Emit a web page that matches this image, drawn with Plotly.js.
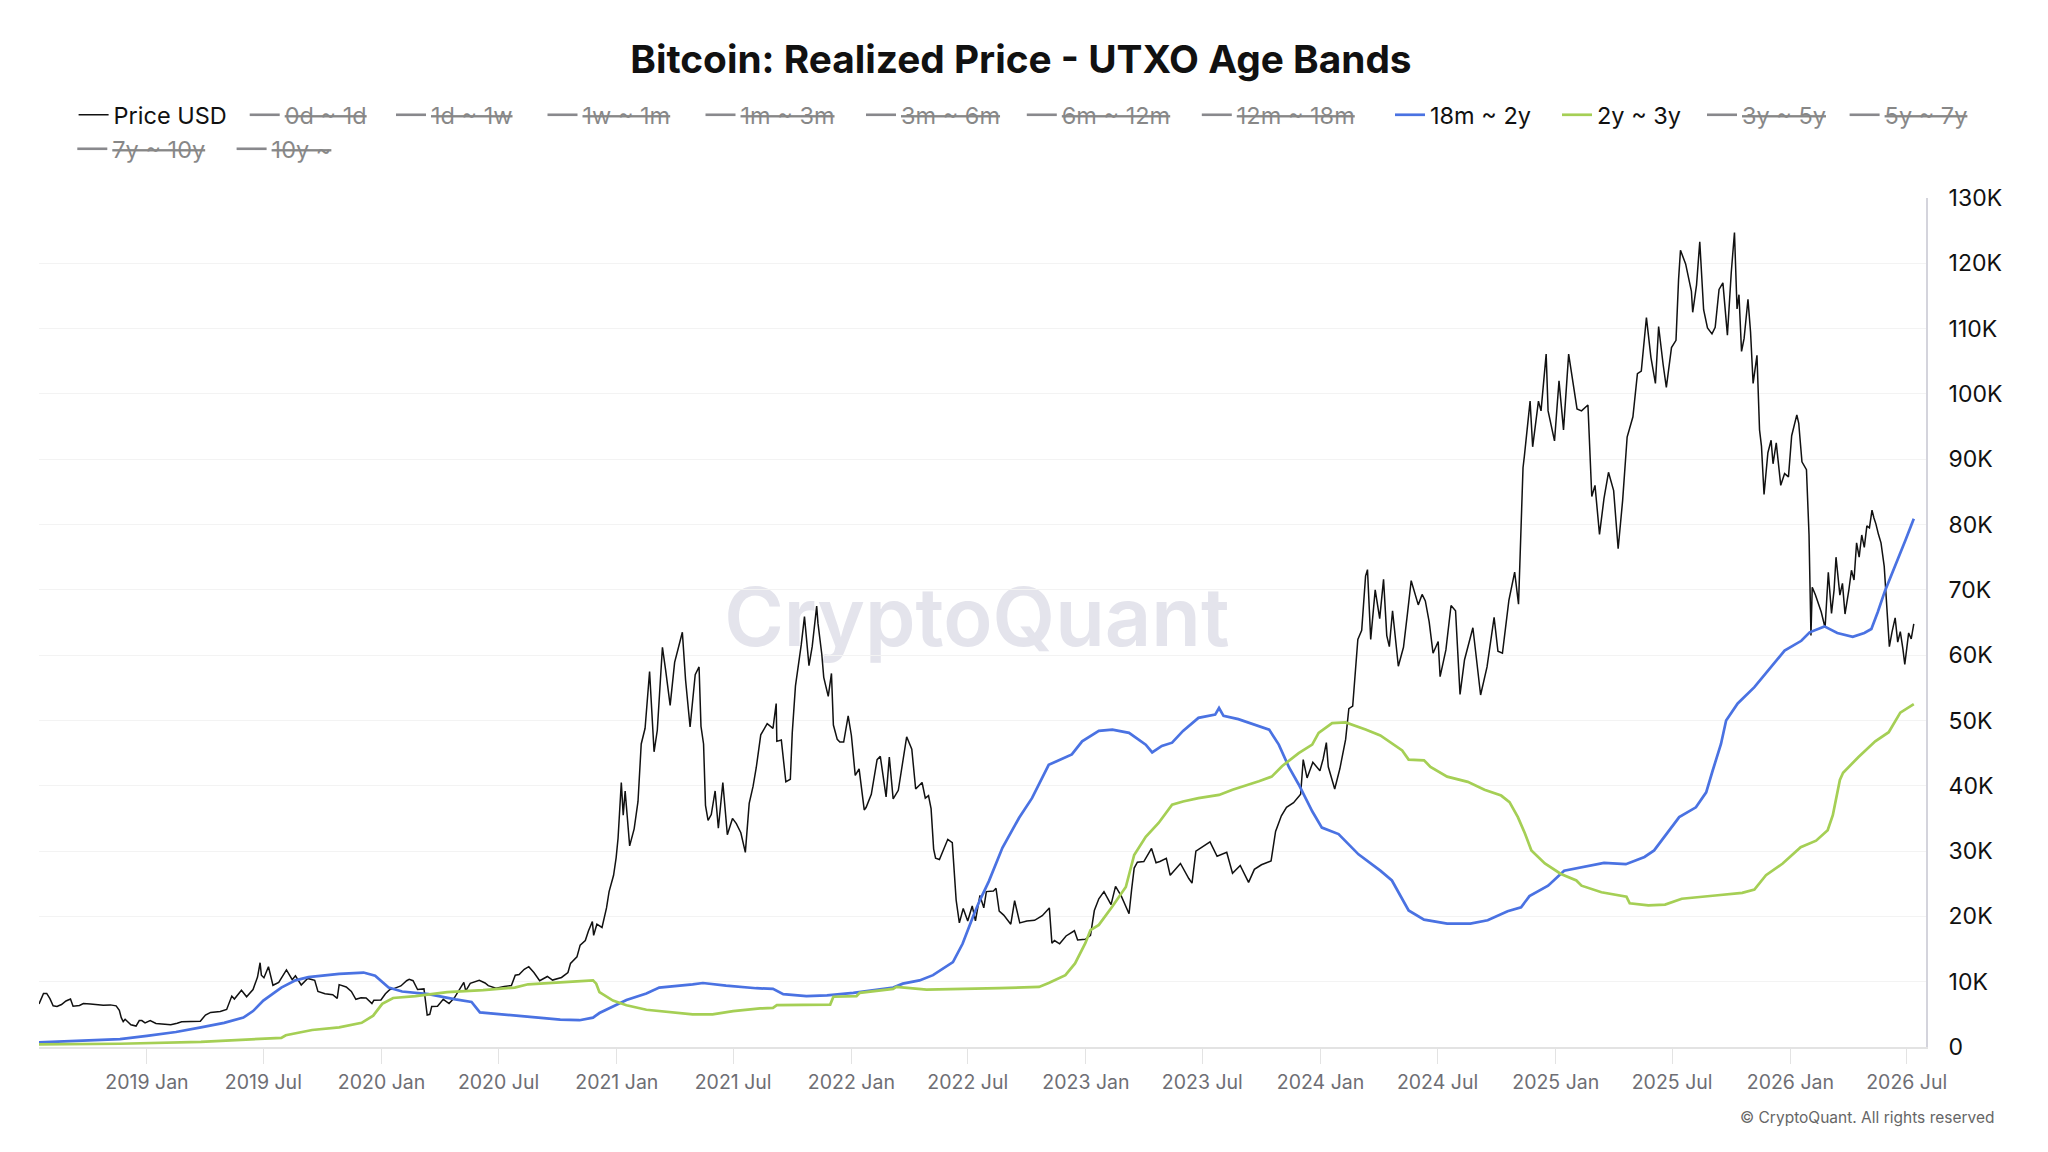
<!DOCTYPE html>
<html>
<head>
<meta charset="utf-8">
<script src="https://cdn.plot.ly/plotly-3.0.1.min.js"></script>
<style>
  html, body { margin: 0; padding: 0; background: #ffffff; }
  #chart { width: 2048px; height: 1152px; }
</style>
</head>
<body>
<div id="chart"></div>
<script>
// ---------------- DATA ----------------
const priceDates = [
"2018-07-17","2018-07-20","2018-07-24","2018-07-29","2018-08-03","2018-08-08","2018-08-14","2018-08-21","2018-08-28","2018-09-04","2018-09-08","2018-09-18","2018-09-24","2018-10-05","2018-10-15","2018-10-25","2018-11-05","2018-11-14","2018-11-19","2018-11-22","2018-11-25","2018-11-28","2018-12-07","2018-12-15","2018-12-20","2018-12-24","2018-12-29",
"2019-01-06","2019-01-15","2019-01-25","2019-02-07","2019-02-17","2019-02-24","2019-03-10","2019-03-25","2019-04-02","2019-04-10","2019-04-25","2019-05-05","2019-05-13","2019-05-17","2019-05-28","2019-06-05","2019-06-15","2019-06-22","2019-06-26","2019-06-28","2019-07-02","2019-07-09","2019-07-16","2019-07-25","2019-08-06","2019-08-15","2019-08-20","2019-08-29","2019-09-08","2019-09-19","2019-09-24","2019-10-05","2019-10-17","2019-10-24","2019-10-27","2019-11-07","2019-11-15","2019-11-22","2019-11-30","2019-12-08","2019-12-17","2019-12-20","2019-12-31",
"2020-01-07","2020-01-14","2020-01-19","2020-01-31","2020-02-09","2020-02-13","2020-02-19","2020-02-26","2020-03-07","2020-03-12","2020-03-16","2020-03-19","2020-03-28","2020-04-06","2020-04-15","2020-04-23","2020-04-30","2020-05-08","2020-05-11","2020-05-18","2020-06-01","2020-06-10","2020-06-15","2020-06-27","2020-07-10","2020-07-21","2020-07-27","2020-08-02","2020-08-10","2020-08-17","2020-08-25","2020-09-03","2020-09-15","2020-09-23","2020-10-07","2020-10-17","2020-10-21","2020-10-31","2020-11-05","2020-11-13","2020-11-18","2020-11-24","2020-11-26","2020-12-01","2020-12-09","2020-12-16","2020-12-20","2020-12-27","2020-12-31",
"2021-01-03","2021-01-08","2021-01-11","2021-01-14","2021-01-21","2021-01-28","2021-02-03","2021-02-08","2021-02-14","2021-02-21","2021-02-28","2021-03-05","2021-03-13","2021-03-18","2021-03-25","2021-04-01","2021-04-13","2021-04-18","2021-04-25","2021-05-03","2021-05-09","2021-05-12","2021-05-16","2021-05-19","2021-05-23","2021-05-28","2021-06-03","2021-06-08","2021-06-15","2021-06-22","2021-06-30","2021-07-06","2021-07-13","2021-07-20","2021-07-26","2021-08-01","2021-08-06","2021-08-13","2021-08-23","2021-09-01","2021-09-06","2021-09-07","2021-09-14","2021-09-21","2021-09-28","2021-10-01","2021-10-06","2021-10-15","2021-10-20","2021-10-27","2021-11-01","2021-11-08","2021-11-10","2021-11-16","2021-11-19","2021-11-26","2021-12-01","2021-12-04","2021-12-10","2021-12-14","2021-12-20","2021-12-27",
"2022-01-01","2022-01-07","2022-01-13","2022-01-21","2022-01-24","2022-02-01","2022-02-10","2022-02-15","2022-02-24","2022-03-01","2022-03-07","2022-03-15","2022-03-28","2022-04-05","2022-04-11","2022-04-21","2022-04-26","2022-05-01","2022-05-05","2022-05-09","2022-05-12","2022-05-18","2022-05-31","2022-06-07","2022-06-13","2022-06-18","2022-06-24","2022-07-01","2022-07-08","2022-07-13","2022-07-20","2022-07-26","2022-07-30","2022-08-10","2022-08-14","2022-08-19","2022-08-26","2022-09-06","2022-09-12","2022-09-20","2022-10-01","2022-10-13","2022-10-25","2022-11-05","2022-11-09","2022-11-13","2022-11-21","2022-12-01","2022-12-14","2022-12-19","2022-12-31",
"2023-01-08","2023-01-14","2023-01-21","2023-01-29","2023-02-09","2023-02-16","2023-02-25","2023-03-09","2023-03-13","2023-03-17","2023-03-22","2023-04-01","2023-04-13","2023-04-20","2023-04-26","2023-05-06","2023-05-12","2023-05-28","2023-06-10","2023-06-15","2023-06-21","2023-07-01","2023-07-13","2023-07-24","2023-08-08","2023-08-17","2023-08-29","2023-09-11","2023-09-20","2023-10-01","2023-10-16","2023-10-23","2023-11-01","2023-11-09","2023-11-20","2023-12-01","2023-12-05","2023-12-11","2023-12-20","2023-12-31",
"2024-01-05","2024-01-10","2024-01-13","2024-01-23","2024-01-31","2024-02-09","2024-02-14","2024-02-20","2024-02-28","2024-03-05","2024-03-11","2024-03-14","2024-03-19","2024-03-26","2024-04-02","2024-04-08","2024-04-13","2024-04-17","2024-04-22","2024-05-01","2024-05-09","2024-05-15","2024-05-21","2024-06-01","2024-06-07","2024-06-12","2024-06-18","2024-06-24","2024-07-02","2024-07-05","2024-07-14","2024-07-22","2024-07-29","2024-08-05","2024-08-12","2024-08-25","2024-09-06","2024-09-16","2024-09-27","2024-10-03","2024-10-10","2024-10-20","2024-10-29","2024-11-04","2024-11-11","2024-11-13","2024-11-22","2024-11-26","2024-12-05","2024-12-09","2024-12-17","2024-12-20","2024-12-30",
"2025-01-06","2025-01-13","2025-01-21","2025-01-27","2025-02-03","2025-02-10","2025-02-20","2025-02-26","2025-03-03","2025-03-10","2025-03-17","2025-03-24","2025-04-01","2025-04-08","2025-04-15","2025-04-22","2025-05-01","2025-05-08","2025-05-14","2025-05-22","2025-05-29","2025-06-05","2025-06-10","2025-06-17","2025-06-22","2025-06-30","2025-07-07","2025-07-11","2025-07-14","2025-07-22","2025-07-31","2025-08-02","2025-08-08","2025-08-13","2025-08-19","2025-08-25","2025-09-01","2025-09-06","2025-09-12","2025-09-18","2025-09-25","2025-10-01","2025-10-06","2025-10-10","2025-10-13","2025-10-17","2025-10-21","2025-10-27","2025-10-31","2025-11-04","2025-11-10","2025-11-14","2025-11-17","2025-11-21","2025-11-27","2025-12-02","2025-12-05","2025-12-10","2025-12-17","2025-12-23","2025-12-29",
"2026-01-03","2026-01-11","2026-01-14","2026-01-19","2026-01-26","2026-01-30","2026-02-02","2026-02-04","2026-02-09","2026-02-13","2026-02-18","2026-02-24","2026-03-01","2026-03-06","2026-03-10","2026-03-13","2026-03-19","2026-03-23","2026-03-27","2026-04-02","2026-04-06","2026-04-10","2026-04-14","2026-04-18","2026-04-22","2026-04-26","2026-04-30","2026-05-04","2026-05-08","2026-05-11","2026-05-14","2026-05-18","2026-05-22","2026-05-27","2026-05-31","2026-06-04","2026-06-08","2026-06-13","2026-06-17","2026-06-21","2026-06-25","2026-06-28","2026-07-01","2026-07-04","2026-07-08","2026-07-12"
];
const priceValues = [
6600,7400,8200,8200,7400,6300,6200,6500,7050,7350,6250,6350,6650,6600,6450,6400,6450,6300,5600,4500,3900,4250,3400,3200,4050,4050,3700,
4050,3600,3550,3400,3650,3850,3900,3950,4900,5300,5450,5750,7800,7350,8700,7700,8800,10700,12900,11000,10600,12300,9450,9900,11800,10300,10900,9500,10500,10200,8500,8150,8000,7450,9550,9200,8500,7300,7550,7500,6650,7150,7200,
8150,8800,8900,9350,10150,10350,10150,8800,8900,4900,5000,6200,6250,7300,6650,7500,8650,9900,8600,9750,10200,9800,9400,9000,9250,9400,11000,11100,11900,12300,11400,10150,10800,10250,10650,11400,12800,13800,15600,16300,17800,19200,17100,18800,18300,21300,23800,26300,29000,
32000,40500,35500,39200,30800,33400,37600,46400,48800,57500,45200,48500,61200,57700,52300,58900,63500,56200,49000,57000,58200,49100,46400,37000,34700,35600,39200,33500,40500,32500,35000,34200,32800,29800,37300,39900,42800,47800,49500,48800,52600,46800,47000,40600,41000,48100,55300,61600,65900,58400,61300,67500,64900,60100,56600,53700,57200,49300,47100,46700,46700,50700,
47700,41600,42600,36300,36700,38700,44000,44500,38300,44400,38000,39300,47500,45600,39500,40500,38100,38500,36500,30300,28900,28700,31800,31300,22500,19000,21200,19300,21600,19300,23200,21300,23800,23900,24300,20800,20200,18800,22400,19000,19300,19400,20100,21300,15900,16300,15800,17000,17800,16400,16500,
17100,20900,22700,23800,21800,24600,23100,20400,24100,27400,28300,28400,30400,28200,28400,28900,26300,28100,25800,25100,30000,30600,31400,29200,29800,26600,27800,25200,27200,27900,28500,33000,35400,36700,37400,38700,44000,41200,43600,42300,
44100,46600,42900,39500,42600,47100,51800,52200,62400,63800,72100,73100,62400,70000,65600,71600,63000,61300,66800,58300,61200,66200,71400,67700,69300,68300,65100,60300,62100,56700,60800,67600,66800,54000,59300,64200,53900,58200,65800,60600,60300,68400,72700,67800,88700,90400,98900,91900,98900,97400,106100,97400,92800,
102000,94500,106100,102100,97700,97400,98300,84300,86000,78500,84000,88000,85200,76300,83700,93400,96500,103100,103500,111700,105600,101600,110300,104500,101000,107100,108200,117500,122000,119900,115700,112500,116700,123300,112900,110100,109200,110200,116000,117000,109000,118600,124700,113000,115200,106500,108500,114500,109500,101600,105900,94500,92000,84600,91000,92900,89300,92500,86000,87800,87300,
93600,96800,95500,89600,88400,78400,63000,70400,69200,68000,66600,64200,72700,66400,70000,75000,69200,71000,66300,70000,73000,71500,77200,75000,78400,76500,79800,79500,82200,81000,80100,78500,77200,73600,66900,61300,63500,65700,62000,63600,61000,58600,61000,63400,62500,64800
];

const band18m2yDates = [
"2018-07-17","2018-09-15","2018-11-20","2019-01-01","2019-02-15","2019-03-26","2019-05-01","2019-05-31","2019-06-15","2019-07-01","2019-07-29","2019-08-20","2019-09-09","2019-10-27","2019-12-04","2019-12-22",
"2020-01-12","2020-02-02","2020-03-14","2020-04-25","2020-05-20","2020-06-02","2020-08-14","2020-10-05","2020-11-04","2020-11-25","2020-12-05","2020-12-26",
"2021-01-16","2021-02-16","2021-03-08","2021-04-29","2021-05-15","2021-06-20","2021-08-06","2021-09-01","2021-09-17","2021-10-23","2021-11-24",
"2022-01-04","2022-02-04","2022-03-07","2022-03-22","2022-04-17","2022-05-08","2022-06-08","2022-06-23","2022-07-01","2022-07-11","2022-07-20","2022-08-03","2022-08-24","2022-09-19","2022-10-09","2022-11-04","2022-12-10","2022-12-26",
"2023-01-21","2023-02-11","2023-03-09","2023-04-04","2023-04-14","2023-04-29","2023-05-15","2023-06-01","2023-06-25","2023-07-21","2023-07-27","2023-08-03","2023-08-26","2023-09-27","2023-10-13","2023-10-28","2023-11-13","2023-11-28","2023-12-19",
"2024-01-03","2024-01-29","2024-02-29","2024-03-21","2024-04-03","2024-04-21","2024-05-17","2024-06-10","2024-07-16","2024-08-21","2024-09-17","2024-10-18","2024-11-08","2024-11-21","2024-12-20",
"2025-01-14","2025-02-19","2025-03-17","2025-04-20","2025-05-19","2025-06-03","2025-06-29","2025-07-12","2025-08-07","2025-08-23","2025-09-02","2025-09-15","2025-09-23","2025-10-11","2025-11-06","2025-12-02","2025-12-23",
"2026-01-18","2026-01-31","2026-02-23","2026-03-15","2026-04-08","2026-04-26","2026-05-07","2026-05-17","2026-05-28","2026-06-13","2026-06-29","2026-07-12"
];
const band18m2yValues = [
700,900,1200,1700,2300,3000,3700,4500,5500,7100,9100,10200,10700,11200,11400,10900,
9100,8500,8100,7300,6900,5300,4600,4200,4100,4500,5200,6200,
7200,8200,9100,9600,9800,9400,9000,8900,8100,7800,7900,
8300,8700,9100,9700,10200,11000,13000,15800,17900,20400,22500,25400,30500,35100,38100,43200,44800,46800,
48400,48600,48100,46300,45100,46100,46600,48400,50400,50900,51900,50700,50200,49200,48600,46300,42800,40200,36100,
33600,32600,29500,28000,27000,25500,20900,19500,18900,18900,19400,20800,21400,23100,24700,
27000,27700,28200,28000,29100,30100,33400,35200,36700,39000,42300,46400,50000,52600,55100,58200,60700,
62200,63500,64400,63400,62800,63400,64000,66600,69800,73600,77600,80900
];

const band2y3yDates = [
"2018-07-17","2018-11-20","2019-03-26","2019-06-10","2019-07-29","2019-08-05","2019-09-15","2019-10-27","2019-12-01","2019-12-19",
"2020-01-02","2020-01-19","2020-02-23","2020-04-12","2020-06-07","2020-07-26","2020-08-16","2020-10-05","2020-11-25","2020-11-30","2020-12-05","2020-12-26",
"2021-01-16","2021-02-16","2021-03-24","2021-04-29","2021-05-30","2021-07-01","2021-08-12","2021-09-01","2021-09-07","2021-11-29","2021-12-04",
"2022-01-09","2022-01-14","2022-03-07","2022-03-12","2022-04-28","2022-08-19","2022-10-20","2022-11-04","2022-11-30","2022-12-15","2022-12-31",
"2023-01-08","2023-01-21","2023-02-11","2023-03-04","2023-03-17","2023-04-04","2023-04-24","2023-05-15","2023-06-01","2023-06-25","2023-07-27","2023-08-17","2023-09-27","2023-10-17","2023-11-02","2023-11-28","2023-12-19","2023-12-29",
"2024-01-19","2024-02-09","2024-03-11","2024-04-03","2024-05-07","2024-05-17","2024-06-10","2024-06-20","2024-07-16","2024-08-17","2024-09-12","2024-10-08","2024-10-21","2024-11-03","2024-11-14","2024-11-24","2024-12-15",
"2025-01-09","2025-02-02","2025-02-10","2025-03-13","2025-04-21","2025-04-26","2025-05-25","2025-06-20","2025-07-16","2025-09-06","2025-10-18","2025-11-06","2025-11-24","2025-12-20",
"2026-01-17","2026-02-10","2026-02-28","2026-03-08","2026-03-19","2026-03-24","2026-04-17","2026-05-13","2026-06-03","2026-06-21","2026-07-12"
];
const band2y3yValues = [
400,500,800,1100,1400,1800,2600,3000,3700,4800,
6600,7500,7800,8400,8700,9100,9600,9900,10200,9700,8400,7100,
6400,5700,5300,5000,5000,5500,5900,6000,6400,6500,7700,
7800,8300,8900,9200,8800,9000,9200,9800,11000,12800,15900,
17900,18700,21500,24500,29400,32200,34300,37100,37600,38100,38600,39400,40700,41400,43000,45000,46300,48100,
49600,49700,48600,47700,45400,44000,43900,42900,41400,40600,39400,38500,37500,35200,32700,30100,28100,
26500,25500,24700,23700,23000,22000,21700,21800,22700,23200,23600,24100,26300,28100,
30600,31600,33200,35500,40900,42000,44400,46800,48200,51200,52500
];

const seriesNames = ["Price USD","0d ~ 1d","1d ~ 1w","1w ~ 1m","1m ~ 3m","3m ~ 6m","6m ~ 12m","12m ~ 18m","18m ~ 2y","2y ~ 3y","3y ~ 5y","5y ~ 7y","7y ~ 10y","10y ~"];
const yTickVals = [0,10000,20000,30000,40000,50000,60000,70000,80000,90000,100000,110000,120000,130000];
const yTickText = ["0","10K","20K","30K","40K","50K","60K","70K","80K","90K","100K","110K","120K","130K"];

// ---------------- STYLE / LAYOUT ----------------
const FONT = 'Inter, "Noto Sans", "DejaVu Sans", sans-serif';
const W = 2048, H = 1152;
const M = {l: 39, r: 122, t: 198, b: 105};
const PW = W - M.l - M.r, PH = H - M.t - M.b;
// text-start pixel of each legend entry (layout, not data)
const legendTextX = [113.6,284.7,431,582.5,740.5,901,1061.8,1236.8,1430,1597,1742,1884.6,112.3,271.6];
const legendRowY = [115,115,115,115,115,115,115,115,115,115,115,115,149,149];

const visibleMap = {"Price USD": {x: priceDates, y: priceValues, color: "#111111", width: 1.5},
                    "18m ~ 2y": {x: band18m2yDates, y: band18m2yValues, color: "#4a72e2", width: 2.7},
                    "2y ~ 3y": {x: band2y3yDates, y: band2y3yValues, color: "#a5cf55", width: 2.7}};

const traces = [];
const layout = {
  width: W, height: H,
  paper_bgcolor: "#ffffff", plot_bgcolor: "#ffffff",
  font: {family: FONT, color: "#111"},
  margin: {l: M.l, r: M.r, t: M.t, b: M.b, autoexpand: false},
  showlegend: true,
  title: {text: "Bitcoin: Realized Price - UTXO Age Bands", font: {family: FONT, size: 38.8, color: "#111", weight: 700},
          x: 0.4985, xref: "container", xanchor: "center", y: 1 - 59 / H, yref: "container", yanchor: "middle"},
  xaxis: {type: "date", range: ["2018-07-17", "2026-07-31"], showgrid: false, zeroline: false,
          showline: true, linecolor: "#e3e3e3", linewidth: 2,
          ticks: "outside", ticklen: 15, tickwidth: 1, tickcolor: "#e3e3e3",
          tick0: "2019-01-01", dtick: "M6", tickformat: "%Y %b", ticklabelstandoff: 2,
          tickfont: {family: FONT, size: 19.5, color: "#6e6e74"}},
  yaxis: {side: "right", range: [0, 130000], tickvals: yTickVals, ticktext: yTickText,
          showgrid: true, gridcolor: "#f3f3f3", gridwidth: 1, zeroline: false,
          showline: true, linecolor: "#d4d4dc", linewidth: 2, ticks: "", ticklabelstandoff: 16,
          tickfont: {family: FONT, size: 23, color: "#111"}},
  shapes: [{type: "rect", xref: "paper", yref: "paper", x0: 0.297, x1: 0.697, y0: 0.445, y1: 0.575,
            line: {width: 0}, fillcolor: "rgba(0,0,0,0)", layer: "below",
            label: {text: "CryptoQuant", textposition: "middle center",
                    font: {family: FONT, size: 81, color: "#e4e4ec", weight: 600}}}],
  annotations: [{text: "© CryptoQuant. All rights reserved", xref: "paper", yref: "paper",
                 x: (1997 - M.l) / PW, xanchor: "right", y: (H - M.b - 1117) / PH, yanchor: "middle", showarrow: false,
                 font: {family: FONT, size: 15.5, color: "#666"}}]
};

seriesNames.forEach(function (name, i) {
  const key = i === 0 ? "legend" : "legend" + (i + 1);
  const v = visibleMap[name];
  if (v) {
    traces.push({type: "scatter", mode: "lines", name: name, x: v.x, y: v.y, legend: key,
                 line: {color: v.color, width: v.width}, hoverinfo: "x+y+name"});
  } else {
    traces.push({type: "scatter", mode: "lines", name: "<s>" + name + "</s>", x: [priceDates[0]], y: [null],
                 legend: key, visible: "legendonly", line: {color: "#14141c", width: 2.6}});
  }
  layout[key] = {orientation: "h", xref: "container", yref: "container",
                 x: (legendTextX[i] - 40) / W, xanchor: "left",
                 y: 1 - legendRowY[i] / H, yanchor: "middle",
                 bgcolor: "rgba(0,0,0,0)", borderwidth: 0, itemwidth: 30,
                 font: {family: FONT, size: 23.5, color: "#111"}};
});

Plotly.newPlot("chart", traces, layout, {displayModeBar: false, responsive: false});
</script>
</body>
</html>
